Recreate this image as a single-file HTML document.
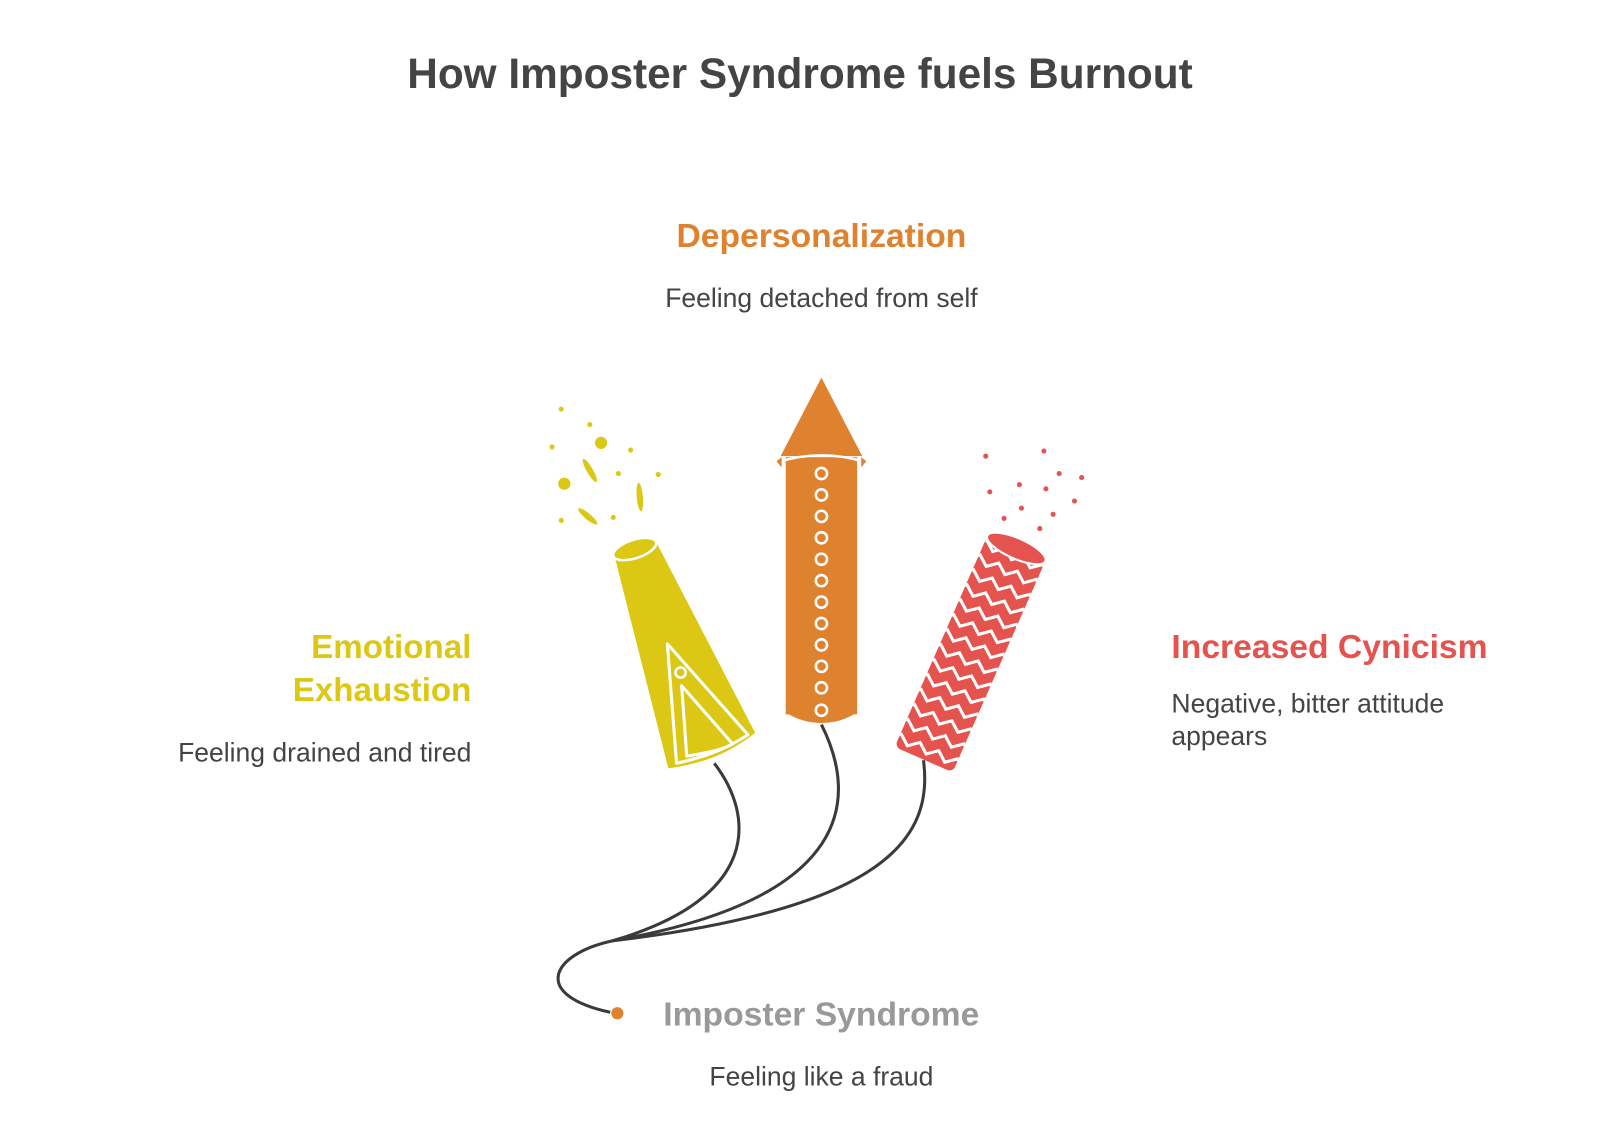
<!DOCTYPE html>
<html><head><meta charset="utf-8"><style>
html,body{margin:0;padding:0;background:#fff;}
svg{display:block;}
text{font-family:"Liberation Sans",sans-serif;}
</style></head><body>
<svg width="1600" height="1146" viewBox="0 0 1568 1123" xmlns="http://www.w3.org/2000/svg">
<defs>
<clipPath id="tube"><rect x="-31" y="-112" width="62" height="226" rx="6"/></clipPath>
</defs>
<text x="784" y="86" text-anchor="middle" font-size="41.5" font-weight="bold" fill="#444">How Imposter Syndrome fuels Burnout</text>
<text x="805" y="242" text-anchor="middle" font-size="33" font-weight="bold" fill="#DF8230">Depersonalization</text>
<text x="805" y="301" text-anchor="middle" font-size="26" fill="#444">Feeling detached from self</text>
<text x="462" y="645" text-anchor="end" font-size="32.5" font-weight="bold" fill="#DCC814">Emotional</text>
<text x="462" y="687" text-anchor="end" font-size="32.5" font-weight="bold" fill="#DCC814">Exhaustion</text>
<text x="462" y="746" text-anchor="end" font-size="26" fill="#444">Feeling drained and tired</text>
<text x="1148" y="645" font-size="33" font-weight="bold" fill="#E5534F">Increased Cynicism</text>
<text x="1148" y="698" font-size="26" fill="#444">Negative, bitter attitude</text>
<text x="1148" y="730" font-size="26" fill="#444">appears</text>
<text x="650" y="1005" font-size="33" font-weight="bold" fill="#999">Imposter Syndrome</text>
<text x="805" y="1064" text-anchor="middle" font-size="26" fill="#444">Feeling like a fraud</text>

<g fill="none" stroke="#3a3a3a" stroke-width="3">
<path d="M700,748 C740,800 745,880 600,922"/>
<path d="M805,710 C840,780 840,880 600,922"/>
<path d="M905,745 C915,820 870,890 600,922"/>
<path d="M600,922 C540,935 520,975 598,992"/>
</g>
<circle cx="605" cy="993" r="6" fill="#DF8230"/>

<g fill="#DCC814">
<circle cx="550" cy="401" r="2.5"/><circle cx="578" cy="416" r="2.5"/><circle cx="589" cy="434" r="6"/>
<circle cx="541" cy="438" r="2.5"/><circle cx="618" cy="441" r="2.5"/><circle cx="606" cy="464" r="2.5"/>
<circle cx="645" cy="465" r="2.5"/><circle cx="553" cy="474" r="6"/><circle cx="550" cy="510" r="2.5"/>
<circle cx="601" cy="507" r="2.5"/>
<ellipse cx="578" cy="461" rx="3" ry="13" transform="rotate(-30 578 461)"/>
<ellipse cx="627" cy="487" rx="3" ry="14" transform="rotate(-5 627 487)"/>
<ellipse cx="576" cy="506" rx="3" ry="12" transform="rotate(-50 576 506)"/>
</g>
<path d="M602,544 L643,531 L740,718 C715,738 690,748 655,753 Z" fill="#DCC814"/>
<ellipse cx="622" cy="538" rx="22" ry="9" transform="rotate(-18 622 538)" fill="#DCC814" stroke="#fff" stroke-width="2.5"/>
<path d="M654,631 L733,720 C710,735 690,742 663,748 Z" fill="none" stroke="#fff" stroke-width="3" stroke-linejoin="round"/>
<path d="M668,672 L718,729 C705,736 690,738 673,741 Z" fill="none" stroke="#fff" stroke-width="3" stroke-linejoin="round"/>
<circle cx="667" cy="659" r="5" fill="none" stroke="#fff" stroke-width="2.5"/>

<polygon points="805,370 765,447 845,447" fill="#DF8230"/>
<rect x="770" y="448" width="70" height="252" fill="#DF8230"/>
<path d="M770,698 C790,712 820,712 840,698 Z" fill="#DF8230"/>
<path d="M762,453 C790,444 820,444 848,453" fill="none" stroke="#fff" stroke-width="2.5"/>
<path d="M761,452 L766,448 L766,458 Z M849,452 L844,448 L844,458 Z" fill="#DF8230"/>
<g fill="none" stroke="#fff" stroke-width="2.5">
<circle cx="805" cy="464" r="5.5"/><circle cx="805" cy="485" r="5.5"/><circle cx="805" cy="506" r="5.5"/>
<circle cx="805" cy="527" r="5.5"/><circle cx="805" cy="548" r="5.5"/><circle cx="805" cy="569" r="5.5"/>
<circle cx="805" cy="590" r="5.5"/><circle cx="805" cy="611" r="5.5"/><circle cx="805" cy="632" r="5.5"/>
<circle cx="805" cy="653" r="5.5"/><circle cx="805" cy="674" r="5.5"/><circle cx="805" cy="696" r="5.5"/>
</g>

<g fill="#E5534F">
<circle cx="966" cy="447" r="2.5"/><circle cx="1023" cy="442" r="2.5"/><circle cx="1038" cy="464" r="2.5"/>
<circle cx="999" cy="475" r="2.5"/><circle cx="970" cy="482" r="2.5"/><circle cx="1025" cy="479" r="2.5"/>
<circle cx="1060" cy="468" r="2.5"/><circle cx="1053" cy="491" r="2.5"/><circle cx="1001" cy="498" r="2.5"/>
<circle cx="984" cy="508" r="2.5"/><circle cx="1032" cy="504" r="2.5"/><circle cx="1019" cy="518" r="2.5"/>
</g>
<g transform="translate(951,640) rotate(23.7)">
<rect x="-31" y="-112" width="62" height="226" rx="6" fill="#E5534F"/>
<g clip-path="url(#tube)" fill="none" stroke="#fff" stroke-width="3">
<path d="M-40,-100 l10,-8 l10,8 l10,-8 l10,8 l10,-8 l10,8 l10,-8 l10,8"/>
<path d="M-40,-84 l10,-8 l10,8 l10,-8 l10,8 l10,-8 l10,8 l10,-8 l10,8"/>
<path d="M-40,-68 l10,-8 l10,8 l10,-8 l10,8 l10,-8 l10,8 l10,-8 l10,8"/>
<path d="M-40,-52 l10,-8 l10,8 l10,-8 l10,8 l10,-8 l10,8 l10,-8 l10,8"/>
<path d="M-40,-36 l10,-8 l10,8 l10,-8 l10,8 l10,-8 l10,8 l10,-8 l10,8"/>
<path d="M-40,-20 l10,-8 l10,8 l10,-8 l10,8 l10,-8 l10,8 l10,-8 l10,8"/>
<path d="M-40,-4 l10,-8 l10,8 l10,-8 l10,8 l10,-8 l10,8 l10,-8 l10,8"/>
<path d="M-40,12 l10,-8 l10,8 l10,-8 l10,8 l10,-8 l10,8 l10,-8 l10,8"/>
<path d="M-40,28 l10,-8 l10,8 l10,-8 l10,8 l10,-8 l10,8 l10,-8 l10,8"/>
<path d="M-40,44 l10,-8 l10,8 l10,-8 l10,8 l10,-8 l10,8 l10,-8 l10,8"/>
<path d="M-40,60 l10,-8 l10,8 l10,-8 l10,8 l10,-8 l10,8 l10,-8 l10,8"/>
<path d="M-40,76 l10,-8 l10,8 l10,-8 l10,8 l10,-8 l10,8 l10,-8 l10,8"/>
<path d="M-40,92 l10,-8 l10,8 l10,-8 l10,8 l10,-8 l10,8 l10,-8 l10,8"/>
<path d="M-40,108 l10,-8 l10,8 l10,-8 l10,8 l10,-8 l10,8 l10,-8 l10,8"/>
</g>
<ellipse cx="0" cy="-112" rx="31" ry="10" fill="#E5534F" stroke="#fff" stroke-width="2"/>
</g>
</svg>
</body></html>
